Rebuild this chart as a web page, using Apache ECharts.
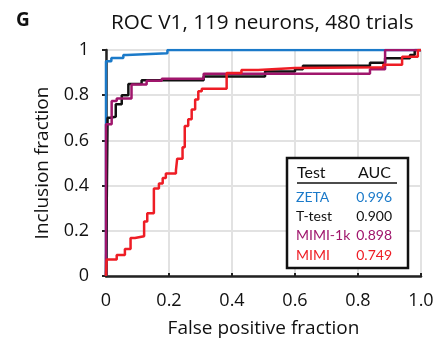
<!DOCTYPE html>
<html><head><meta charset="utf-8">
<script src="https://cdn.jsdelivr.net/npm/echarts@6/dist/echarts.min.js"></script>
<style>html,body{margin:0;padding:0;background:#fff}#c{width:438px;height:343px}</style>
</head><body><div id="c"></div>
<script>
// ---- data ----
const xTicks = [0, 0.2, 0.4, 0.6, 0.8, 1.0];
const yTicks = [0, 0.2, 0.4, 0.6, 0.8, 1];
const testNames = ['ZETA', 'T-test', 'MIMI-1k', 'MIMI'];
const aucValues = ['0.996', '0.900', '0.898', '0.749'];
const zetaFpr = [0, 0, 0.017, 0.055, 0.066, 0.195, 1];
const zetaTpr = [0, 0.95, 0.965, 0.978, 0.986, 1, 1];
const ttestFpr = [0, 0.005, 0.013, 0.031, 0.05, 0.071, 0.113, 0.31, 0.505, 0.6, 0.625, 0.838, 0.886, 0.965, 0.98, 1];
const ttestTpr = [0, 0.70, 0.705, 0.76, 0.80, 0.85, 0.866, 0.883, 0.905, 0.915, 0.93, 0.944, 0.964, 0.978, 1, 1];
const mimi1kFpr = [0, 0, 0.018, 0.034, 0.081, 0.129, 0.177, 0.31, 0.838, 0.886, 1];
const mimi1kTpr = [0, 0.672, 0.774, 0.785, 0.847, 0.864, 0.873, 0.895, 0.915, 1, 1];
const mimiFpr = [0, 0.002, 0.034, 0.06, 0.078, 0.092, 0.121, 0.131, 0.152, 0.168, 0.18, 0.19, 0.222, 0.226, 0.243, 0.25, 0.261, 0.272, 0.283, 0.293, 0.304, 0.383, 0.43, 0.483, 0.6, 0.88, 0.94, 0.99, 1];
const mimiTpr = [0, 0.073, 0.093, 0.12, 0.168, 0.176, 0.241, 0.278, 0.387, 0.409, 0.434, 0.453, 0.467, 0.519, 0.57, 0.664, 0.694, 0.737, 0.781, 0.818, 0.828, 0.898, 0.912, 0.92, 0.924, 0.935, 0.97, 1, 1];
const colors = ['#1b7ac9', '#111111', '#a0166c', '#ee1d25'];

const FONT = 'Open Sans';
const LFONT = 'Lato';
const pairs = (a, b) => a.map((v, i) => [v, b[i]]);
const curves = [pairs(zetaFpr, zetaTpr), pairs(ttestFpr, ttestTpr), pairs(mimi1kFpr, mimi1kTpr), pairs(mimiFpr, mimiTpr)];

const chart = echarts.init(document.getElementById('c'), null, {renderer: 'canvas'});
const grid = {left: 106, right: 17, top: 50, bottom: 65};
const legendX = 287, legendY = 158;
const rowY = [197, 216, 235, 255];
const graphics = [
  {type: 'text', left: 16, top: 11, style: {text: 'G', font: 'bold 19px ' + FONT, fill: '#111'}},
  {type: 'rect', shape: {x: legendX, y: legendY, width: 121, height: 110}, style: {fill: '#fff', stroke: '#111', lineWidth: 2.5}, z: 100},
  {type: 'text', x: 297, y: 173, style: {text: 'Test', font: '16px ' + LFONT, fill: '#111', verticalAlign: 'middle'}, z: 101},
  {type: 'text', x: 358, y: 173, style: {text: 'AUC', font: '16px ' + LFONT, fill: '#111', verticalAlign: 'middle'}, z: 101},
  {type: 'line', shape: {x1: 297, y1: 183, x2: 397, y2: 183}, style: {stroke: '#111', lineWidth: 1.5}, z: 101}
];
testNames.forEach((n, i) => {
  graphics.push({type: 'text', x: 296, y: rowY[i], style: {text: n, font: '14px ' + LFONT, fill: colors[i], verticalAlign: 'middle'}, z: 101});
  graphics.push({type: 'text', x: 392, y: rowY[i], style: {text: aucValues[i], font: '14px ' + LFONT, fill: colors[i], verticalAlign: 'middle', align: 'right'}, z: 101});
});

chart.setOption({
  animation: false,
  title: {text: 'ROC V1, 119 neurons, 480 trials', left: 106, top: 8, textStyle: {fontFamily: FONT, fontSize: 20.7, fontWeight: 'normal', color: '#111'}},
  grid: grid,
  xAxis: {
    type: 'value', min: 0, max: 1, interval: 0.2, offset: 7,
    name: 'False positive fraction', nameLocation: 'middle', nameGap: 36,
    nameTextStyle: {fontFamily: FONT, fontSize: 19, color: '#111'},
    axisLine: {lineStyle: {color: '#222', width: 2.5}},
    axisTick: {inside: true, length: 3, lineStyle: {color: '#222', width: 2}},
    axisLabel: {fontFamily: FONT, fontSize: 18, color: '#111', margin: 9,
      formatter: v => { const i = xTicks.findIndex(t => Math.abs(t - v) < 1e-9); return i < 0 ? '' : (v === 0 ? '0' : xTicks[i].toFixed(1)); }},
    splitLine: {show: true, lineStyle: {color: '#e2e2e2', width: 2}}
  },
  yAxis: {
    type: 'value', min: 0, max: 1, interval: 0.2, offset: 9,
    name: 'Inclusion fraction', nameLocation: 'middle', nameGap: 45,
    nameTextStyle: {fontFamily: FONT, fontSize: 19, color: '#111'},
    axisLine: {show: true, lineStyle: {color: '#222', width: 2.5}},
    axisTick: {show: true, length: 4, lineStyle: {color: '#222', width: 2}},
    axisLabel: {fontFamily: FONT, fontSize: 18, color: '#111', margin: 8,
      formatter: v => { const i = yTicks.findIndex(t => Math.abs(t - v) < 1e-9); return i < 0 ? '' : (v === 0 || v === 1 ? String(yTicks[i]) : yTicks[i].toFixed(1)); }},
    splitLine: {show: true, lineStyle: {color: '#e2e2e2', width: 2}}
  },
  series: curves.map((d, i) => ({
    type: 'line', name: testNames[i], data: d, step: 'end', showSymbol: false, symbol: 'none',
    lineStyle: {color: colors[i], width: 2.5}, z: 2 + i
  })),
  graphic: graphics
});
</script></body></html>
